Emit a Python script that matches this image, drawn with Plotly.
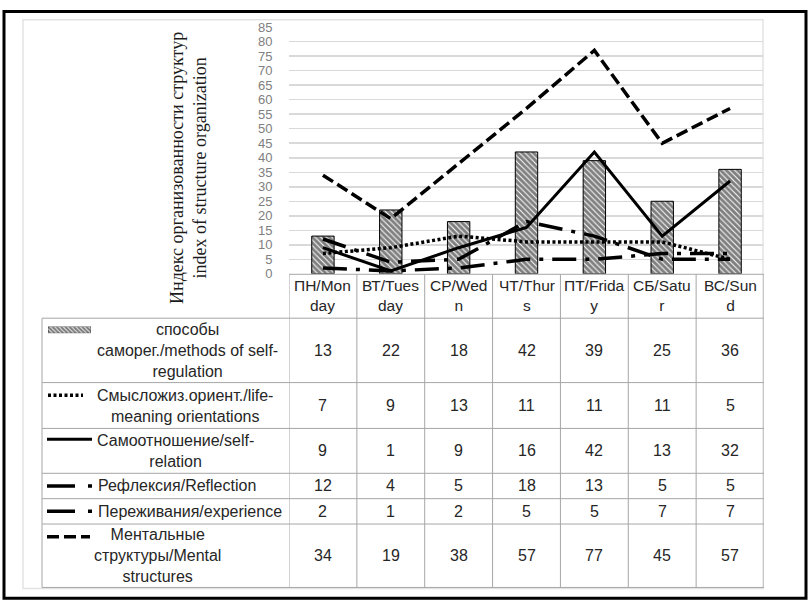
import plotly.graph_objects as go

# ---------------- data ----------------
days = ["ПН/Monday", "ВТ/Tuesday", "СР/Wedn", "ЧТ/Thurs", "ПТ/Friday", "СБ/Satur", "ВС/Sund"]
day_labels = ["ПН/Mon<br>day", "ВТ/Tues<br>day", "СР/Wed<br>n", "ЧТ/Thur<br>s",
              "ПТ/Frida<br>y", "СБ/Satu<br>r", "ВС/Sun<br>d"]

methods = [13, 22, 18, 42, 39, 25, 36]
life_meaning = [7, 9, 13, 11, 11, 11, 5]
self_relation = [9, 1, 9, 16, 42, 13, 32]
reflection = [12, 4, 5, 18, 13, 5, 5]
experience = [2, 1, 2, 5, 5, 7, 7]
mental = [34, 19, 38, 57, 77, 45, 57]

series_labels = [
    "способы<br>саморег./methods of self-<br>regulation",
    "Смысложиз.ориент./life-<br>meaning orientations",
    "Самоотношение/self-<br>relation",
    "Рефлексия/Reflection",
    "Переживания/experience",
    "Ментальные<br>структуры/Mental<br>structures",
]
series_values = [methods, life_meaning, self_relation, reflection, experience, mental]

y_ticks = list(range(0, 90, 5))
y_title = "Индекс организованности структур<br>index of structure organization"

# ---------------- geometry helpers ----------------
W, H = 810, 613


def px(x):
    return x / W


def py(y):
    return 1 - y / H


PLOT_L, PLOT_R = 289, 764
PLOT_T, PLOT_B = 20.7, 273.5
TABLE_L = 42
row_lines = [274, 319, 385, 432, 478, 504, 530, 595]
GRID_COL = "#a6a6a6"
TXT_COL = "#262626"
FONT = "Liberation Sans"

fig = go.Figure()

# bars
fig.add_trace(go.Bar(
    x=days, y=methods, width=0.33,
    marker=dict(color="white", line=dict(color="black", width=1),
                pattern=dict(shape="\\", fgcolor="black", bgcolor="white", size=4, solidity=0.75)),
    showlegend=False, hoverinfo="y",
))

line_styles = [
    (life_meaning, dict(color="black", width=3.5, dash="3px,2.5px")),
    (self_relation, dict(color="black", width=3)),
    (reflection, dict(color="black", width=3.5, dash="24px,9px,4px,9px")),
    (experience, dict(color="black", width=3.5, dash="24px,9px,4px,9px")),
    (mental, dict(color="black", width=3.5, dash="12px,5px")),
]
for vals, st in line_styles:
    fig.add_trace(go.Scatter(x=days, y=vals, mode="lines", line=st,
                             showlegend=False, hoverinfo="y"))

# hatched legend key for the bar series (small separate axis)
fig.add_trace(go.Bar(
    x=[0], y=[1], width=1, xaxis="x2", yaxis="y2",
    marker=dict(color="white", line=dict(color="black", width=0.5),
                pattern=dict(shape="\\", fgcolor="black", bgcolor="white", size=3, solidity=0.75)),
    showlegend=False, hoverinfo="skip",
))

shapes = []
# outer black frame
shapes.append(dict(type="rect", xref="paper", yref="paper",
                   x0=px(4), x1=px(806), y0=py(606), y1=py(4.5),
                   line=dict(color="black", width=3)))
# faint chart area border
shapes.append(dict(type="rect", xref="paper", yref="paper",
                   x0=px(23), x1=px(763), y0=py(596), y1=py(13),
                   line=dict(color="#e3e3e3", width=1.5)))

# table horizontal lines
for i, yy in enumerate(row_lines):
    x0 = PLOT_L if i == 0 else TABLE_L
    shapes.append(dict(type="line", xref="paper", yref="paper",
                       x0=px(x0), x1=px(PLOT_R), y0=py(yy), y1=py(yy),
                       line=dict(color=GRID_COL, width=1)))
# table vertical lines
shapes.append(dict(type="line", xref="paper", yref="paper",
                   x0=px(TABLE_L), x1=px(TABLE_L), y0=py(row_lines[1]), y1=py(row_lines[-1]),
                   line=dict(color=GRID_COL, width=1)))
for i in range(len(days) + 1):
    shapes.append(dict(type="line", xref="x", yref="paper",
                       x0=i - 0.5, x1=i - 0.5, y0=py(row_lines[0]), y1=py(row_lines[-1]),
                       line=dict(color=GRID_COL, width=1)))

# legend keys in table
key_y = [331, 398, 443, 491, 517, 543]
shapes.append(dict(type="line", xref="paper", yref="paper", x0=px(48), x1=px(83),
                   y0=py(key_y[1]), y1=py(key_y[1]),
                   line=dict(color="black", width=3.5, dash="3px,2.5px")))
shapes.append(dict(type="line", xref="paper", yref="paper", x0=px(47), x1=px(92),
                   y0=py(key_y[2]), y1=py(key_y[2]), line=dict(color="black", width=3)))
for k in (3, 4):
    shapes.append(dict(type="line", xref="paper", yref="paper", x0=px(47), x1=px(93),
                       y0=py(key_y[k]), y1=py(key_y[k]),
                       line=dict(color="black", width=3.5, dash="28px,13px,4px,30px")))
shapes.append(dict(type="line", xref="paper", yref="paper", x0=px(47), x1=px(90),
                   y0=py(key_y[5]), y1=py(key_y[5]),
                   line=dict(color="black", width=3.5, dash="12px,5px")))

annotations = []
# y axis title
annotations.append(dict(text=y_title, xref="paper", yref="paper", x=px(189), y=py(165),
                        textangle=-90, showarrow=False, xanchor="center", yanchor="middle",
                        font=dict(family="Liberation Serif", size=18, color="#1a1a1a"),
                        align="center"))
# header row
hdr_c = (row_lines[0] + row_lines[1]) / 2
for d, lab in zip(days, day_labels):
    annotations.append(dict(text=lab, xref="x", yref="paper", x=d, y=py(hdr_c - 1),
                            showarrow=False, xanchor="center", yanchor="middle",
                            font=dict(family=FONT, size=15.5, color=TXT_COL), align="center"))
# rows
label_x = [95, 95, 95, 96, 96, 92]
for r, (lab, vals) in enumerate(zip(series_labels, series_values)):
    yc = (row_lines[r + 1] + row_lines[r + 2]) / 2
    annotations.append(dict(text=lab, xref="paper", yref="paper", x=px(label_x[r]), y=py(yc),
                            showarrow=False, xanchor="left", yanchor="middle",
                            font=dict(family=FONT, size=16, color=TXT_COL), align="center"))
    for d, v in zip(days, vals):
        annotations.append(dict(text=str(v), xref="x", yref="paper", x=d, y=py(yc),
                                showarrow=False, xanchor="center", yanchor="middle",
                                font=dict(family=FONT, size=16, color=TXT_COL)))

fig.update_layout(
    width=W, height=H, autosize=False,
    margin=dict(l=0, r=0, t=0, b=0),
    paper_bgcolor="white", plot_bgcolor="white",
    barmode="overlay",
    xaxis=dict(domain=[px(PLOT_L), px(PLOT_R)], range=[-0.5, 6.5], type="category",
               showgrid=False, showticklabels=False, showline=False, zeroline=False, fixedrange=True),
    yaxis=dict(domain=[py(PLOT_B), py(PLOT_T)], range=[0, 85], tickvals=y_ticks,
               showgrid=True, gridcolor="#d9d9d9", gridwidth=1.5, zeroline=False, showline=False,
               ticks="outside", ticklen=13, tickcolor="rgba(0,0,0,0)",
               tickfont=dict(family=FONT, size=13, color="#808080"), fixedrange=True),
    xaxis2=dict(domain=[px(48), px(91)], range=[-0.5, 0.5], anchor="y2", visible=False),
    yaxis2=dict(domain=[py(334.5), py(327.5)], range=[0, 1], anchor="x2", visible=False),
    shapes=shapes,
    annotations=annotations,
)

fig.write_html("out.html", config={"displayModeBar": False, "staticPlot": True},
               post_script="document.body.style.margin='0px';document.body.style.overflow='hidden';")
